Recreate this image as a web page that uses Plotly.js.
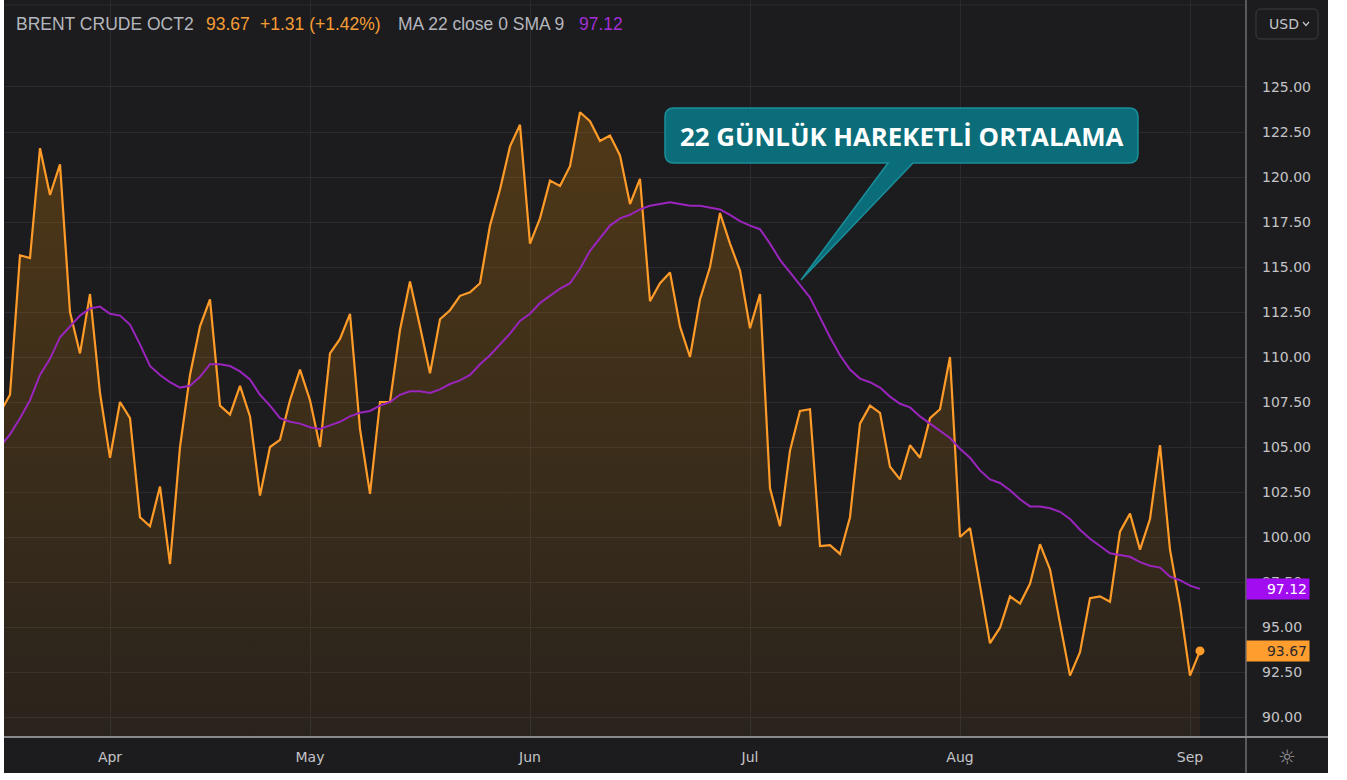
<!DOCTYPE html>
<html><head><meta charset="utf-8">
<script src="https://cdn.plot.ly/plotly-3.0.1.min.js"></script>
<style>
html,body{margin:0;padding:0;background:#ffffff;width:1347px;height:780px;overflow:hidden}
#chart{position:absolute;left:4px;top:0;width:1324px;height:773px}
</style></head>
<body><div id="chart"></div>
<script>
// ---- data ----
const dates = [
'2022-03-17','2022-03-18','2022-03-21','2022-03-22','2022-03-23','2022-03-24','2022-03-25','2022-03-28','2022-03-29','2022-03-30','2022-03-31',
'2022-04-01','2022-04-04','2022-04-05','2022-04-06','2022-04-07','2022-04-08','2022-04-11','2022-04-12','2022-04-13','2022-04-14','2022-04-18','2022-04-19','2022-04-20','2022-04-21','2022-04-22','2022-04-25','2022-04-26','2022-04-27','2022-04-28','2022-04-29',
'2022-05-02','2022-05-03','2022-05-04','2022-05-05','2022-05-06','2022-05-09','2022-05-10','2022-05-11','2022-05-12','2022-05-13','2022-05-16','2022-05-17','2022-05-18','2022-05-19','2022-05-20','2022-05-23','2022-05-24','2022-05-25','2022-05-26','2022-05-27','2022-05-30','2022-05-31',
'2022-06-01','2022-06-02','2022-06-03','2022-06-06','2022-06-07','2022-06-08','2022-06-09','2022-06-10','2022-06-13','2022-06-14','2022-06-15','2022-06-16','2022-06-17','2022-06-20','2022-06-21','2022-06-22','2022-06-23','2022-06-24','2022-06-27','2022-06-28','2022-06-29','2022-06-30',
'2022-07-01','2022-07-04','2022-07-05','2022-07-06','2022-07-07','2022-07-08','2022-07-11','2022-07-12','2022-07-13','2022-07-14','2022-07-15','2022-07-18','2022-07-19','2022-07-20','2022-07-21','2022-07-22','2022-07-25','2022-07-26','2022-07-27','2022-07-28','2022-07-29',
'2022-08-01','2022-08-02','2022-08-03','2022-08-04','2022-08-05','2022-08-08','2022-08-09','2022-08-10','2022-08-11','2022-08-12','2022-08-15','2022-08-16','2022-08-17','2022-08-18','2022-08-19','2022-08-22','2022-08-23','2022-08-24','2022-08-25','2022-08-26','2022-08-29','2022-08-30','2022-08-31',
'2022-09-01','2022-09-02'];

const closePrice = [
106.9,107.9,115.65,115.5,121.6,119.0,120.7,112.5,110.2,113.5,108.0,
104.4,107.5,106.6,101.1,100.6,102.8,98.5,105.0,109.0,111.7,113.2,107.3,106.8,108.4,106.7,102.3,105.0,105.4,107.6,109.3,
107.6,105.0,110.2,111.0,112.4,106.0,102.4,107.5,107.5,111.5,114.2,111.7,109.1,112.1,112.6,113.4,113.6,114.1,117.3,119.3,121.7,122.9,
116.3,117.7,119.8,119.5,120.6,123.6,123.1,122.0,122.3,121.2,118.5,119.9,113.1,114.1,114.7,111.7,110.0,113.2,115.0,118.0,116.3,114.8,
111.6,113.5,102.7,100.6,104.8,107.0,107.1,99.5,99.55,99.06,101.1,106.3,107.3,106.9,103.9,103.2,105.1,104.4,106.6,107.1,110.0,
100.0,100.5,97.3,94.1,94.96,96.7,96.3,97.4,99.6,98.2,95.2,92.3,93.6,96.6,96.7,96.4,100.3,101.3,99.3,101.0,105.1,99.3,96.2,
92.3,93.67];

const ma22 = [
105.0,105.7,106.6,107.6,109.0,109.9,111.1,111.7,112.3,112.7,112.8,
112.4,112.3,111.8,110.7,109.5,109.0,108.6,108.3,108.4,108.9,109.6,109.6,109.5,109.2,108.75,107.9,107.3,106.6,106.4,106.3,
106.1,106.0,106.2,106.4,106.7,106.9,107.0,107.3,107.5,107.9,108.1,108.1,108.0,108.2,108.5,108.7,109.0,109.6,110.1,110.7,111.3,112.0,
112.4,113.0,113.4,113.8,114.1,114.9,115.9,116.6,117.3,117.7,117.9,118.2,118.4,118.5,118.6,118.5,118.4,118.4,118.3,118.2,117.9,117.55,
117.3,117.1,116.3,115.4,114.7,114.0,113.3,112.2,111.1,110.1,109.3,108.8,108.6,108.3,107.8,107.4,107.2,106.7,106.3,105.9,105.5,
104.9,104.4,103.7,103.2,103.0,102.6,102.1,101.7,101.7,101.6,101.4,101.0,100.4,99.9,99.5,99.1,99.0,98.9,98.6,98.4,98.3,97.8,97.6,
97.3,97.12];

const monthTicks = ['2022-04-01','2022-05-02','2022-06-01','2022-07-01','2022-08-01','2022-09-01'];
const monthLabels = ['Apr','May','Jun','Jul','Aug','Sep'];
const priceTicks = [90,92.5,95,97.5,100,102.5,105,107.5,110,112.5,115,117.5,120,122.5,125];

const symbolText = 'BRENT CRUDE OCT2';
const lastText = '93.67';
const changeText = '+1.31 (+1.42%)';
const maText = 'MA 22 close 0 SMA 9';
const maLastText = '97.12';
const calloutText = '22 GÜNLÜK HAREKETLİ ORTALAMA';
const currencyText = 'USD';

// ---- geometry helpers (page pixels -> paper fractions) ----
const W = 1324, H = 773, MR = 82, MB = 36;
const PW = W - MR, PH = H - MB;
const fx = px => (px - 4) / PW;
const fy = py => (PH - py) / PH;

const BG = '#1c1c1e', GRID = '#2b2b2f', TXT = '#c4c4c8', ORANGE = '#ff9b28', PURPLE = '#9a25bd';

function calloutPath(x0, y0, x1, y1, r, tl, tr, tipx, tipy) {
  const P = (x, y) => fx(x).toFixed(5) + ',' + fy(y).toFixed(5);
  return 'M' + P(x0 + r, y0) + ' L' + P(x1 - r, y0) + ' Q' + P(x1, y0) + ' ' + P(x1, y0 + r) +
    ' L' + P(x1, y1 - r) + ' Q' + P(x1, y1) + ' ' + P(x1 - r, y1) +
    ' L' + P(tr, y1) + ' L' + P(tipx, tipy) + ' L' + P(tl, y1) +
    ' L' + P(x0 + r, y1) + ' Q' + P(x0, y1) + ' ' + P(x0, y1 - r) +
    ' L' + P(x0, y0 + r) + ' Q' + P(x0, y0) + ' ' + P(x0 + r, y0) + ' Z';
}
function roundRect(x0, y0, x1, y1, r) {
  const P = (x, y) => fx(x).toFixed(5) + ',' + fy(y).toFixed(5);
  return 'M' + P(x0 + r, y0) + ' L' + P(x1 - r, y0) + ' Q' + P(x1, y0) + ' ' + P(x1, y0 + r) +
    ' L' + P(x1, y1 - r) + ' Q' + P(x1, y1) + ' ' + P(x1 - r, y1) +
    ' L' + P(x0 + r, y1) + ' Q' + P(x0, y1) + ' ' + P(x0, y1 - r) +
    ' L' + P(x0, y0 + r) + ' Q' + P(x0, y0) + ' ' + P(x0 + r, y0) + ' Z';
}

const n = dates.length;
const traces = [
  {
    x: dates, y: closePrice, type: 'scatter', mode: 'lines',
    line: {color: ORANGE, width: 2.2},
    fill: 'tozeroy',
    fillgradient: {type: 'vertical', start: 89, stop: 124,
      colorscale: [[0, 'rgba(255,152,0,0.06)'], [1, 'rgba(255,152,0,0.23)']]},
    hoverinfo: 'skip', showlegend: false
  },
  {
    x: dates, y: ma22, type: 'scatter', mode: 'lines',
    line: {color: PURPLE, width: 2},
    hoverinfo: 'skip', showlegend: false
  },
  {
    x: [dates[n - 1]], y: [closePrice[n - 1]], type: 'scatter', mode: 'markers',
    marker: {color: ORANGE, size: 9},
    hoverinfo: 'skip', showlegend: false
  }
];

const legendFont = {family: 'Liberation Sans, Arial, sans-serif', size: 17.5};
const ann = (px, text, color) => ({xref: 'paper', yref: 'paper', x: fx(px), y: fy(24),
  xanchor: 'left', yanchor: 'middle', showarrow: false, text: text,
  font: Object.assign({}, legendFont, {color: color})});

const layout = {
  width: W, height: H,
  margin: {l: 0, r: MR, t: 0, b: MB, pad: 0},
  paper_bgcolor: BG, plot_bgcolor: BG,
  showlegend: false,
  xaxis: {
    type: 'category', range: [0.4, 124.6],
    tickvals: monthTicks, ticktext: monthLabels,
    showgrid: true, gridcolor: GRID, gridwidth: 1,
    zeroline: false, showline: false, ticks: '',
    ticklabelstandoff: 10,
    tickfont: {family: 'DejaVu Sans, sans-serif', size: 14, color: TXT},
    fixedrange: true
  },
  yaxis: {
    side: 'right', range: [88.889, 129.833],
    tickvals: priceTicks, tickformat: '.2f',
    showgrid: true, gridcolor: GRID, gridwidth: 1,
    zeroline: false, showline: false, ticks: '',
    ticklabelstandoff: 15,
    tickfont: {family: 'DejaVu Sans, sans-serif', size: 14, color: TXT},
    fixedrange: true
  },
  shapes: [
    {type: 'line', xref: 'paper', yref: 'paper', x0: 0, x1: 1, y0: fy(5), y1: fy(5), line: {color: GRID, width: 1}},
    {type: 'line', xref: 'paper', yref: 'paper', x0: 1, x1: 1, y0: fy(773), y1: fy(0), line: {color: '#6e6e73', width: 1.5}},
    {type: 'line', xref: 'paper', yref: 'paper', x0: fx(4), x1: fx(1328), y0: 0, y1: 0, line: {color: '#88888d', width: 2}},
    {type: 'path', xref: 'paper', yref: 'paper', layer: 'above',
      path: calloutPath(665, 108, 1138, 163, 9, 888, 913, 801, 280),
      fillcolor: '#0a6d79', line: {color: '#1a8f9b', width: 1.5}},
    {type: 'path', xref: 'paper', yref: 'paper', path: roundRect(1256, 9, 1318, 39, 5),
      fillcolor: BG, line: {color: '#3d3d42', width: 1}},
    {type: 'path', xref: 'paper', yref: 'paper',
      path: 'M' + fx(1303) + ',' + fy(22) + ' L' + fx(1306) + ',' + fy(25.5) + ' L' + fx(1309) + ',' + fy(22),
      line: {color: TXT, width: 1.2}}
  ],
  annotations: [
    ann(14, symbolText, '#b4b6bd'),
    ann(204, lastText, '#f59c35'),
    ann(258, changeText, '#f59c35'),
    ann(396, maText, '#b4b6bd'),
    ann(577, maLastText, '#a12fd6'),
    {xref: 'paper', yref: 'paper', x: fx(901.5), y: fy(135.5), xanchor: 'center', yanchor: 'middle',
      showarrow: false, text: '<b>' + calloutText + '</b>',
      font: {family: 'Open Sans, sans-serif', size: 25.8, color: '#ffffff'}},
    {xref: 'paper', yref: 'paper', x: fx(1284), y: fy(24), xanchor: 'center', yanchor: 'middle',
      showarrow: false, text: currencyText,
      font: {family: 'DejaVu Sans, sans-serif', size: 14, color: TXT}},
    {xref: 'paper', yref: 'paper', x: fx(1287), y: fy(757), xanchor: 'center', yanchor: 'middle',
      showarrow: false, text: '☼',
      font: {family: 'DejaVu Sans, sans-serif', size: 20, color: '#9a9a9f'}},
    {xref: 'paper', yref: 'y', x: 1, y: ma22[n - 1], xanchor: 'left', yanchor: 'middle',
      showarrow: false, text: ma22[n - 1].toFixed(2), align: 'right', width: 58, height: 16,
      bgcolor: '#a10df0', borderpad: 2,
      font: {family: 'DejaVu Sans, sans-serif', size: 14, color: '#ffffff'}},
    {xref: 'paper', yref: 'y', x: 1, y: closePrice[n - 1], xanchor: 'left', yanchor: 'middle',
      showarrow: false, text: closePrice[n - 1].toFixed(2), align: 'right', width: 58, height: 16,
      bgcolor: '#ff9d2e', borderpad: 2,
      font: {family: 'DejaVu Sans, sans-serif', size: 14, color: '#2a2a2a'}}
  ]
};

Plotly.newPlot('chart', traces, layout, {displayModeBar: false, staticPlot: true});
</script></body></html>
